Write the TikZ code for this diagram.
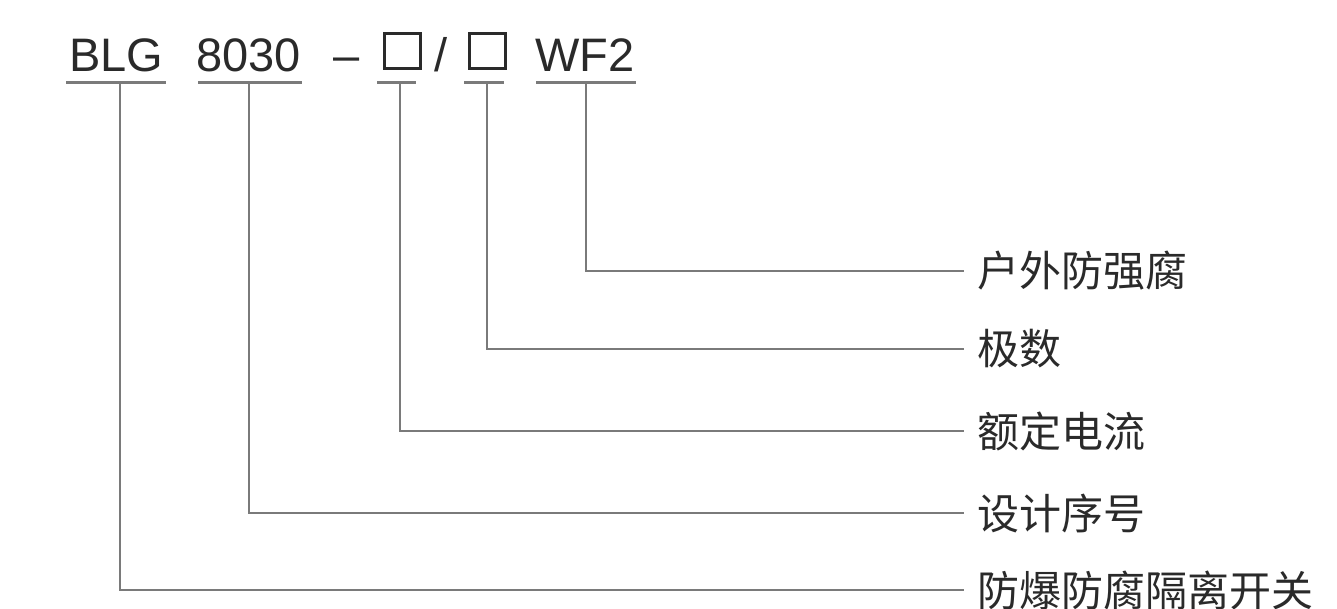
\documentclass[tikz,border=0pt]{standalone}
\usepackage{fontspec}
\setmainfont{Liberation Sans}
\newfontfamily\cjk{Noto Sans CJK SC}
\definecolor{txt}{HTML}{2A2A2A}
\definecolor{ln}{HTML}{7A7A7A}
\tikzset{
  code/.style={anchor=base west, inner sep=0pt, text=txt, font=\fontsize{47}{47}\selectfont},
  slot/.style={draw=txt, line width=2.6pt, minimum width=36pt, minimum height=35pt, inner sep=0pt, anchor=south west},
  lbl/.style={anchor=west, inner xsep=13pt, inner ysep=0pt, text=txt, font=\cjk\fontsize{42}{42}\selectfont},
  uline/.style={draw=ln, line width=3pt},
  conn/.style={draw=ln, line width=2.6pt}
}
\begin{document}
\begin{tikzpicture}[x=1pt,y=-1pt]
\useasboundingbox (0,0) rectangle (1337,609);
% code parts
\node[code] (blg) at (69,72) {BLG};
\node[code] (num) at (196,72) {8030};
\node[code] (dash) at (333,72) {–};
\node[slot] (b1) at (383.3,69.7) {};
\node[code] (sl) at (434,72) {/};
\node[slot] (b2) at (468.3,69.7) {};
\node[code] (wf) at (535,72) {WF2};
% underlines
\coordinate (u1) at (120,83);
\coordinate (u2) at (249,83);
\coordinate (u3) at (400,83);
\coordinate (u4) at (487,83);
\coordinate (u5) at (586,83);
\draw[uline] (66,83) -- (166,83);
\draw[uline] (198,83) -- (302,83);
\draw[uline] (377,83) -- (416,83);
\draw[uline] (464,83) -- (504,83);
\draw[uline] (536,83) -- (636,83);
% labels
\node[lbl] (l5) at (964,271) {户外防强腐};
\node[lbl] (l4) at (964,349) {极数};
\node[lbl] (l3) at (964,431) {额定电流};
\node[lbl] (l2) at (964,513) {设计序号};
\node[lbl] (l1) at (964,590) {防爆防腐隔离开关};
% connectors
\draw[conn] (u1) |- (l1.west);
\draw[conn] (u2) |- (l2.west);
\draw[conn] (u3) |- (l3.west);
\draw[conn] (u4) |- (l4.west);
\draw[conn] (u5) |- (l5.west);
\end{tikzpicture}
\end{document}
